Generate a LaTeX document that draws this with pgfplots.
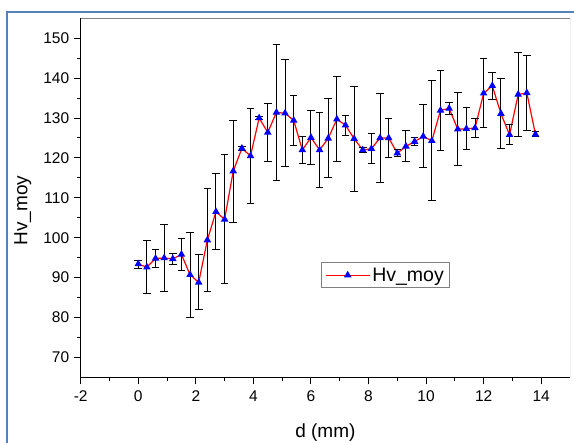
\documentclass[border=0pt]{standalone}
\usepackage{pgfplots}
\pgfplotsset{compat=1.18}
\usepackage{pgfplotstable}
\usepackage{fontspec}
\setmainfont{Liberation Sans}

\definecolor{frameblue}{RGB}{84,130,190}
\definecolor{boxgray}{RGB}{128,128,128}

% d (mm), Hv_moy, error
\pgfplotstableread{
x    y      e
0.0  93.4   1.0
0.3  92.6   6.7
0.6  94.8   2.3
0.9  94.9   8.3
1.2  94.7   1.3
1.5  95.8   4.0
1.8  90.7   10.6
2.1  88.8   6.9
2.4  99.4   13.0
2.7  106.5  9.5
3.0  104.6  16.2
3.3  116.7  12.8
3.6  122.4  0.5
3.9  120.5  12.0
4.2  130.0  0.4
4.5  126.4  7.3
4.8  131.4  17.0
5.1  131.2  13.4
5.4  129.4  6.3
5.7  122.0  3.3
6.0  125.1  6.7
6.3  122.0  9.3
6.6  124.9  9.9
6.9  129.7  10.7
7.2  128.2  2.5
7.5  124.8  13.2
7.8  122.0  0.7
8.1  122.3  3.7
8.4  125.0  11.2
8.7  125.0  4.8
9.0  121.2  0.9
9.3  122.9  3.9
9.6  124.1  0.9
9.9  125.4  7.9
10.2 124.3  15.0
10.5 131.9  10.0
10.8 132.4  1.5
11.1 127.2  9.2
11.4 127.3  5.3
11.7 127.5  2.3
12.0 136.2  8.6
12.3 138.1  3.4
12.6 131.1  8.8
12.9 125.8  2.5
13.2 135.9  10.5
13.5 136.3  9.5
13.8 125.9  0.6
}\hvdata

\begin{document}
\begin{tikzpicture}
\begin{axis}[
  width=489.3bp,
  height=359bp,
  scale only axis,
  xmin=-2, xmax=15,
  ymin=65, ymax=155,
  axis x line*=bottom,
  axis y line*=left,
  axis line style={-, black, line width=1bp},
  xtick={-2,0,...,14},
  ytick={70,80,...,150},
  minor x tick num=1,
  minor y tick num=1,
  tick align=outside,
  major tick length=7bp,
  minor tick length=4bp,
  tick style={black, line width=1bp},
  /pgf/number format/assume math mode=true,
  tick label style={font=\fontsize{15.5bp}{18bp}\selectfont},
  xticklabel style={yshift=-3bp},
  yticklabel style={xshift=-1bp},
  xlabel={d (mm)},
  ylabel={Hv\_moy},
  label style={font=\fontsize{19bp}{22bp}\selectfont},
  xlabel style={at={(axis description cs:0.5,-0.153)}, anchor=center},
  ylabel style={at={(axis description cs:-0.1185,0.464)}, anchor=center},
  legend style={at={(axis description cs:0.4905,0.3203)}, anchor=north west,
    draw=boxgray, line width=0.8bp, font=\fontsize{19.5bp}{22bp}\selectfont,
    inner xsep=4bp, inner ysep=3bp},
  legend image code/.code={%
    \draw[#1, mark repeat=2, mark phase=2] plot coordinates {(-3bp,0bp) (19bp,0bp) (41bp,0bp)};},
]
\addplot[red, line width=1.2bp, mark=triangle*, mark size=3.2bp,
  mark options={blue, draw=blue, fill=blue},
  error bars/.cd, y dir=both, y explicit,
  error mark options={black, line width=1bp, mark size=3.8bp, rotate=90},
  error bar style={black, line width=1bp}]
  table[x=x, y=y, y error=e] {\hvdata};
\addlegendentry{Hv\_moy}
\draw[boxgray, line width=1bp] (rel axis cs:0,1) -- (rel axis cs:1,1) -- (rel axis cs:1,0);
\coordinate (O) at (rel axis cs:0,0);
\end{axis}
\draw[frameblue, line width=2.2bp] ([shift={(-73.7bp,-80bp)}]O) -- ([shift={(-73.7bp,365.3bp)}]O) -- ([shift={(510bp,365.3bp)}]O);
\pgfresetboundingbox
\path ([shift={(-80.7bp,-65.7bp)}]O) rectangle ([shift={(493.3bp,377.3bp)}]O);
\end{tikzpicture}
\end{document}
